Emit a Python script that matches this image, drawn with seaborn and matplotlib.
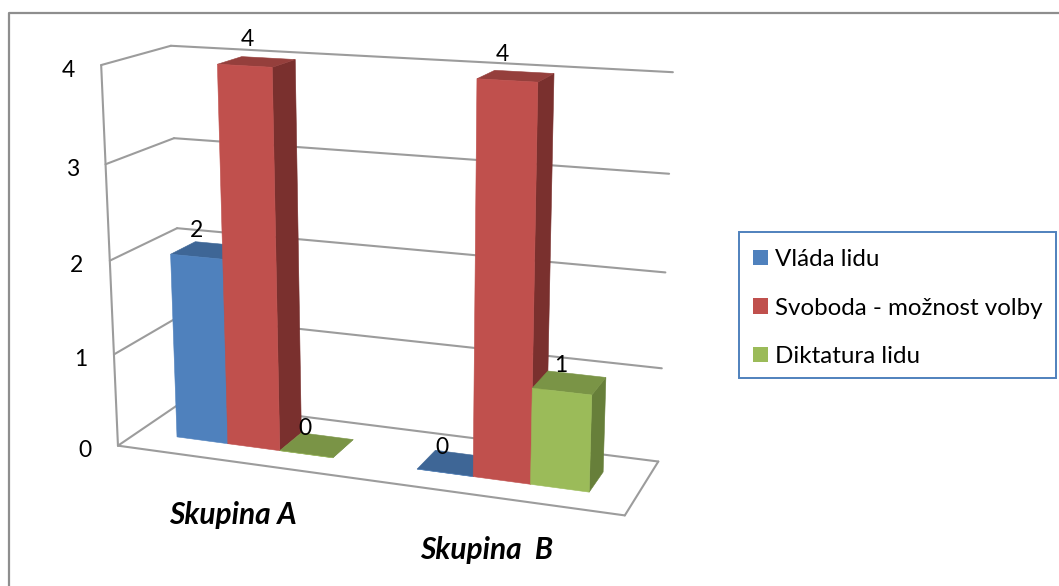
import numpy as np
import matplotlib
matplotlib.use("Agg")
import matplotlib.pyplot as plt
from matplotlib.patches import Patch, Polygon, Rectangle
import seaborn as sns

# Chart values
groups = ["Skupina A", "Skupina  B"]
series = ["Vláda lidu", "Svoboda - možnost volby", "Diktatura lidu"]
vlada_lidu = [2, 0]
svoboda = [4, 4]
diktatura = [0, 1]
value_ticks = [0, 1, 2, 3, 4]

sns.set_theme(style="white")
plt.rcParams["font.family"] = ["Lato", "DejaVu Sans"]

front_colors = sns.color_palette(["#4F81BD", "#C0504D", "#9BBB59"])
top_colors = sns.color_palette(["#3E6696", "#953F3C", "#7A9446"])
side_colors = sns.color_palette(["#355880", "#7A302E", "#677F3A"])
GRID = "#9C9C9C"

W, H = 1059, 586
fig = plt.figure(figsize=(W / 100, H / 100), dpi=100)
ax = fig.add_axes([0, 0, 1, 1])
ax.set_xlim(0, W)
ax.set_ylim(H, 0)
ax.axis("off")

# Perspective camera fitted to the corners of the plot box:
# (across, depth, value) -> canvas position.
box_world = np.array([
    [0, 0, 0], [1, 0, 0], [0, 1, 0], [1, 1, 0],
    [0, 0, 4], [0, 1, 4], [1, 1, 4],
], dtype=float)
box_canvas = np.array([
    [117, 447], [625, 514], [184, 400], [658, 463],
    [102, 65], [170, 46], [673, 72],
], dtype=float)


def fit_camera(world, canvas):
    rows, rhs = [], []
    for (a, b, c), (px, py) in zip(world, canvas):
        rows.append([a, b, c, 1, 0, 0, 0, 0, -px * a, -px * b, -px * c])
        rows.append([0, 0, 0, 0, a, b, c, 1, -py * a, -py * b, -py * c])
        rhs += [px, py]
    sol = np.linalg.lstsq(np.array(rows), np.array(rhs), rcond=None)[0]
    return np.append(sol, 1).reshape(3, 4)


CAMERA = fit_camera(box_world, box_canvas)


def project(across, depth, value):
    px, py, pw = CAMERA @ np.array([across, depth, value, 1.0])
    return px / pw, py / pw


def edge(start, end, **kw):
    a, b = project(*start), project(*end)
    ax.plot([a[0], b[0]], [a[1], b[1]], color=GRID, lw=1.5,
            solid_capstyle="round", **kw)


# Chart frame
ax.plot([9, 9, W], [H, 13, 13], color="#8E8E8E", lw=1.6)

# Walls and floor
for v in value_ticks:
    edge((0, 0, v), (0, 1, v), zorder=1)
    edge((0, 1, v), (1, 1, v), zorder=1)
edge((0, 0, 0), (0, 0, 4), zorder=1)
edge((0, 0, 0), (1, 0, 0), zorder=1)
edge((1, 0, 0), (1, 1, 0), zorder=1)

for v in value_ticks:
    x, y = project(0, 0, v)
    ax.annotate(str(v), (x, y), xytext=(-33, -5), textcoords="offset pixels",
                ha="center", va="center", fontsize=16.5, color="black", zorder=9)

# Columns
BAR_W = 0.11
DEPTH_FRONT, DEPTH_BACK = 0.30, 0.68
columns = [vlada_lidu, svoboda, diktatura]
# Nudges of the value labels from the centre of each column's top face
label_nudges = [[(-12, 20), (-9, 22), (-12, 17)], [(-12, 16), (-13, 22), (-9, 17)]]
z = 3
for g, centre in enumerate([0.25, 0.75]):
    for s, vals in enumerate(columns):
        v = vals[g]
        u0 = centre + (s - 1.5) * BAR_W
        u1 = u0 + BAR_W
        f, b = DEPTH_FRONT, DEPTH_BACK
        side = [project(u1, f, 0), project(u1, b, 0), project(u1, b, v), project(u1, f, v)]
        top = [project(u0, f, v), project(u1, f, v), project(u1, b, v), project(u0, b, v)]
        front = [project(u0, f, 0), project(u1, f, 0), project(u1, f, v), project(u0, f, v)]
        for pts, cols in ((side, side_colors), (top, top_colors), (front, front_colors)):
            ax.add_patch(Polygon(pts, closed=True, facecolor=cols[s], edgecolor=cols[s],
                                 lw=0.4, zorder=z))
            z += 0.01
        cx, cy = project(u0 + BAR_W / 2, (f + b) / 2, v)
        ax.annotate(str(v), (cx, cy), xytext=label_nudges[g][s], textcoords="offset pixels",
                    ha="center", va="center", fontsize=16.5, color="black", zorder=9)
    x, y = project(centre, 0, 0)
    ax.annotate(groups[g], (x, y), xytext=(-2, -53), textcoords="offset pixels",
                ha="center", va="center", fontsize=21.5, fontweight="bold",
                fontstyle="italic", color="black", zorder=9)

# Legend: entries plus a separately drawn box around them
ax.add_patch(Rectangle((739, 232), 317, 146, facecolor="white", edgecolor="#4F81BD",
                       lw=1.4, zorder=20))
handles = [Patch(facecolor=c, edgecolor="none", label=n) for c, n in zip(front_colors, series)]
leg = ax.legend(handles=handles, loc="center left", bbox_to_anchor=(739 / W, 1 - 308 / H),
                bbox_transform=fig.transFigure, fontsize=17.4, frameon=False,
                borderaxespad=0, handlelength=0.62, handleheight=0.62,
                handletextpad=0.29, labelspacing=1.14, borderpad=0.58)
leg.set_zorder(21)
for t in leg.get_texts():
    t.set_color("black")

fig.savefig("out.png", dpi=100, facecolor="white")
